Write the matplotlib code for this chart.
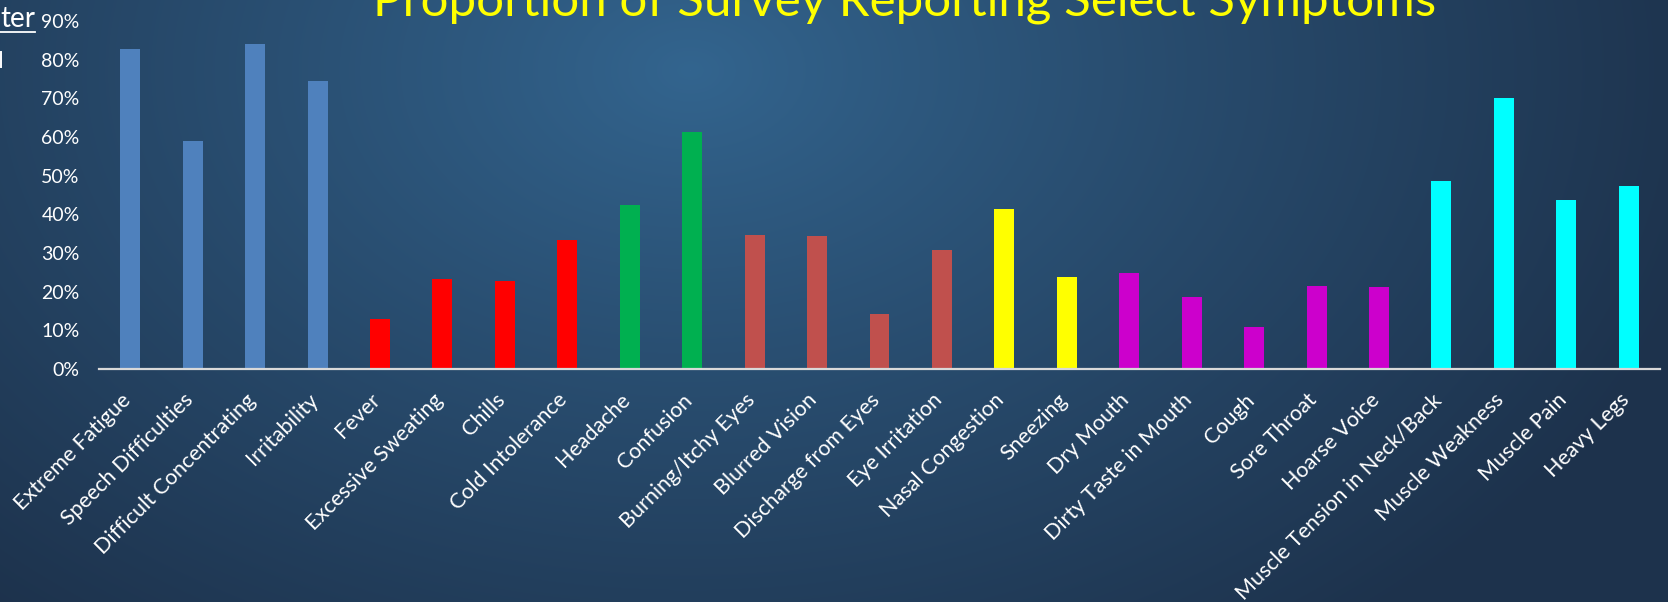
import matplotlib
matplotlib.use("Agg")
import matplotlib.pyplot as plt
import matplotlib.transforms as mtransforms
import numpy as np
from matplotlib.lines import Line2D
from matplotlib.ticker import PercentFormatter

plt.rcParams["font.family"] = ["Lato", "DejaVu Sans"]

# Symptom categories, grouped by colour
symptoms = [
    "Extreme Fatigue", "Speech Difficulties", "Difficult Concentrating", "Irritability",
    "Fever", "Excessive Sweating", "Chills", "Cold Intolerance",
    "Headache", "Confusion",
    "Burning/Itchy Eyes", "Blurred Vision", "Discharge from Eyes", "Eye Irritation",
    "Nasal Congestion", "Sneezing",
    "Dry Mouth", "Dirty Taste in Mouth", "Cough", "Sore Throat", "Hoarse Voice",
    "Muscle Tension in Neck/Back", "Muscle Weakness", "Muscle Pain", "Heavy Legs",
]
proportion = [
    0.828, 0.590, 0.840, 0.745,
    0.129, 0.232, 0.228, 0.334,
    0.424, 0.613,
    0.347, 0.344, 0.142, 0.308,
    0.414, 0.238,
    0.247, 0.185, 0.109, 0.215, 0.212,
    0.486, 0.701, 0.437, 0.473,
]
group_sizes = [4, 4, 2, 4, 2, 5, 4]
group_colours = ["#4F81BD", "#FF0000", "#00B050", "#C0504D", "#FFFF00", "#CC00CC", "#00FFFF"]
y_ticks = np.arange(0, 1.0, 0.1)
title = "Proportion of Survey Reporting Select Symptoms"

W, H, DPI = 1668, 602, 100
fig = plt.figure(figsize=(W / DPI, H / DPI), dpi=DPI)

# Radial gradient background
bg = fig.add_axes([0, 0, 1, 1], zorder=-10)
yy, xx = np.mgrid[0:H, 0:W]
d = np.sqrt(((xx - 690) / 1050.0) ** 2 + ((yy - 70) / 720.0) ** 2)
d = np.clip(d, 0, 1) ** 0.9
inner = np.array([51, 101, 143]) / 255.0
outer = np.array([29, 50, 76]) / 255.0
img = inner[None, None, :] * (1 - d[..., None]) + outer[None, None, :] * d[..., None]
bg.imshow(img, aspect="auto", extent=[0, W, H, 0])
bg.set_axis_off()

colours = np.repeat(group_colours, group_sizes)
x = np.arange(len(symptoms))

ax = fig.add_axes([99 / W, 1 - 369 / H, (1660 - 99) / W, (369 - 21) / H])
ax.set_facecolor("none")
ax.bar(x, proportion, width=0.32, color=colours, zorder=2)
ax.set_xlim(-0.5, len(symptoms) - 0.5)
ax.set_ylim(0, 0.9)
ax.set_yticks(y_ticks)
ax.yaxis.set_major_formatter(PercentFormatter(1.0, decimals=0))
ax.set_xticks(x)
ax.set_xticklabels(symptoms, rotation=45, ha="right", va="top", rotation_mode="anchor",
                   fontsize=15.5)
ax.tick_params(axis="both", length=0, colors="white")
ax.tick_params(axis="y", pad=14, labelsize=14)
ax.tick_params(axis="x", pad=15)
shift = mtransforms.ScaledTranslation(-10 / DPI, 0, fig.dpi_scale_trans)
for lbl in ax.get_xticklabels():
    lbl.set_transform(lbl.get_transform() + shift)
for s in ["top", "right", "left"]:
    ax.spines[s].set_visible(False)
ax.spines["bottom"].set_color("#D9D9D9")
ax.spines["bottom"].set_linewidth(1.6)
ax.spines["bottom"].set_zorder(3)

fig.text(905 / W, 1 - 16 / H, title, color="#FFFF00", fontsize=35.5,
         ha="center", va="baseline")

# fragments of slide text cut off at the left edge
fig.text(35 / W, 1 - 27 / H, "ter", color="white", fontsize=20, ha="right", va="baseline")
fig.add_artist(Line2D([0, 35 / W], [1 - 32 / H, 1 - 32 / H], color="white", lw=1.3))
fig.add_artist(Line2D([1 / W, 1 / W], [1 - 52 / H, 1 - 67 / H], color="white", lw=1.4))

fig.savefig("out.png", dpi=DPI)
